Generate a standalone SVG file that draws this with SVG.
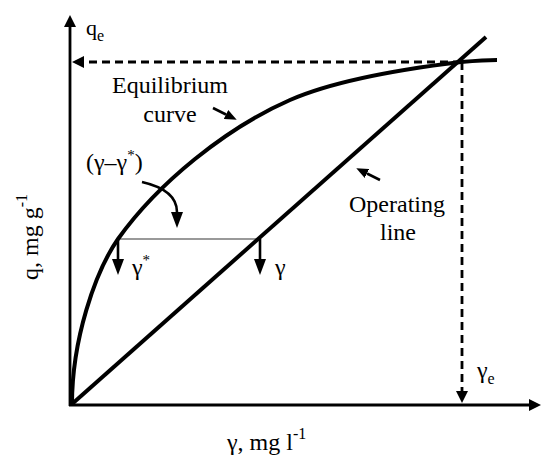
<svg xmlns="http://www.w3.org/2000/svg" width="543" height="457" viewBox="0 0 543 457">
<style>
.ax{stroke:#000;stroke-width:2.8;fill:none}
.thick{stroke:#000;stroke-width:4;fill:none}
.dash{stroke:#000;stroke-width:2.8;fill:none;stroke-dasharray:8 5}
.thin{stroke:#777;stroke-width:1.3;fill:none}
.arr{stroke:#000;stroke-width:2.6;fill:none}
</style>
<defs>
<marker id="ah" viewBox="0 0 12 12" refX="0" refY="6" markerWidth="12" markerHeight="12" markerUnits="userSpaceOnUse" orient="auto"><path d="M0,0 L12,6 L0,12 z" fill="#000"/></marker>
<marker id="ahl" viewBox="0 0 16 12" refX="0" refY="6" markerWidth="16" markerHeight="12" markerUnits="userSpaceOnUse" orient="auto"><path d="M0,0 L16,6 L0,12 z" fill="#000"/></marker>
<marker id="as" viewBox="0 0 12 10" refX="0" refY="5" markerWidth="12" markerHeight="10" markerUnits="userSpaceOnUse" orient="auto"><path d="M0,0 L12,5 L0,10 z" fill="#000"/></marker>
</defs>
<g id="connectors">
<line class="ax" x1="70" y1="406" x2="70" y2="27" marker-end="url(#ah)"/>
<line class="ax" x1="69" y1="405" x2="529" y2="405" marker-end="url(#ah)"/>
<line class="dash" x1="461" y1="62" x2="84" y2="62" marker-end="url(#ah)"/>
<line class="dash" x1="462" y1="62" x2="462" y2="391" marker-end="url(#ah)"/>
<line class="thin" x1="118" y1="239" x2="260" y2="239"/>
<line class="arr" x1="118" y1="239" x2="118" y2="259" marker-end="url(#ahl)"/>
<line class="arr" x1="260" y1="239" x2="260" y2="259" marker-end="url(#ahl)"/>
<path class="arr" d="M142,182 Q177,190 177,212" marker-end="url(#ahl)"/>
<line class="arr" x1="213" y1="108" x2="226" y2="114.5" marker-end="url(#as)"/>
<line class="arr" x1="380" y1="180" x2="367" y2="173.5" marker-end="url(#as)"/>
</g>
<g id="equilibrium-curve">
<path class="thick" d="M72,404 C72,340 95,272 118,239 C158,183 226,128 290,100 C337,79.5 411,68 461,62 C473,61 485,60 497,60"/>
</g>
<g id="operating-line">
<line class="thick" x1="72" y1="404" x2="486" y2="37"/>
</g>
<g id="labels" font-family="'Liberation Serif', 'Times New Roman', 'DejaVu Serif', serif" font-size="24" fill="#000">
<text x="86" y="35" font-size="22">q<tspan font-size="16" dy="6">e</tspan></text>
<text x="170" y="93" text-anchor="middle">Equilibrium</text>
<text x="170" y="122" text-anchor="middle">curve</text>
<text x="86" y="170">(γ–γ<tspan font-size="15" dy="-10">*</tspan><tspan dy="10">)</tspan></text>
<text x="132" y="275">γ<tspan font-size="15" dy="-10">*</tspan></text>
<text x="275" y="275">γ</text>
<text x="397" y="212" text-anchor="middle">Operating</text>
<text x="398" y="240" text-anchor="middle">line</text>
<text x="477" y="378">γ<tspan font-size="16" dy="6">e</tspan></text>
<text x="227" y="450">γ, mg l<tspan font-size="16" dy="-11">-1</tspan></text>
<text transform="translate(38,280) rotate(-90)">q, mg g<tspan font-size="16" dy="-11">-1</tspan></text>
</g>
</svg>
